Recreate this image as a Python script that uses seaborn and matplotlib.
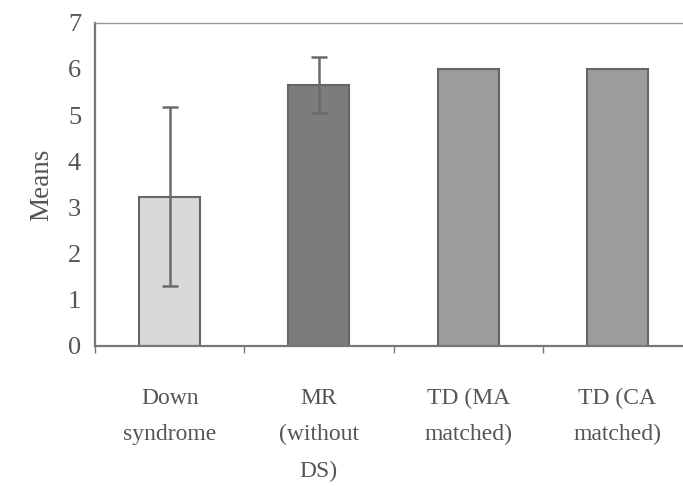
import matplotlib
matplotlib.use("Agg")
import matplotlib.pyplot as plt
import seaborn as sns
import pandas as pd
import numpy as np

categories = ["Down\nsyndrome", "MR\n(without\nDS)", "TD (MA\nmatched)", "TD (CA\nmatched)"]
means = [3.23, 5.65, 6.0, 6.0]
errors = [1.94, 0.61, 0.0, 0.0]
colors = ["#d8d8d8", "#7c7c7c", "#9c9c9c", "#9c9c9c"]
yticks = [0, 1, 2, 3, 4, 5, 6, 7]

sns.set_theme(style="white")
plt.rcParams["font.family"] = ["Liberation Serif", "DejaVu Serif"]

df = pd.DataFrame({"group": categories, "mean": means})

fig = plt.figure(figsize=(6.83, 4.86), dpi=100)
ax = fig.add_axes([95/683, 1 - 346/486, (692 - 95)/683, (346 - 22.7)/486])

sns.barplot(data=df, x="group", y="mean", hue="group", palette=colors,
            width=0.41, edgecolor="#666666", linewidth=1.5, legend=False, ax=ax)

for i, (m, e) in enumerate(zip(means, errors)):
    if e > 0:
        ax.errorbar(i, m, yerr=e, fmt="none", ecolor="#6a6a6a",
                    elinewidth=1.8, capsize=6, capthick=1.8, zorder=5)

ax.set_xlim(-0.5, 3.5)
ax.set_ylim(0, 7)
ax.set_yticks(yticks)
ax.set_yticklabels([str(t) for t in yticks], fontsize=19, color="#555555")
ax.set_xticks(range(len(categories)))
ax.set_xticklabels(categories, fontsize=17, color="#555555", linespacing=1.95)
ax.set_xticks(np.arange(-0.5, 3.6, 1.0), minor=True)
ax.tick_params(axis="x", which="major", length=0, pad=30)
ax.tick_params(axis="x", which="minor", length=5, width=1, color="#777777", direction="out", bottom=True)
ax.tick_params(axis="y", which="major", length=5, width=1, color="#777777", direction="out", pad=5)

ax.set_xlabel("")
ax.set_ylabel("Means", fontsize=19.5, color="#555555", labelpad=10)

for s in ["left", "bottom"]:
    ax.spines[s].set_color("#777777")
    ax.spines[s].set_linewidth(1.6)
ax.spines["top"].set_color("#999999")
ax.spines["top"].set_linewidth(1.0)
ax.spines["right"].set_visible(False)

fig.savefig("out.png", dpi=100, facecolor="white")
